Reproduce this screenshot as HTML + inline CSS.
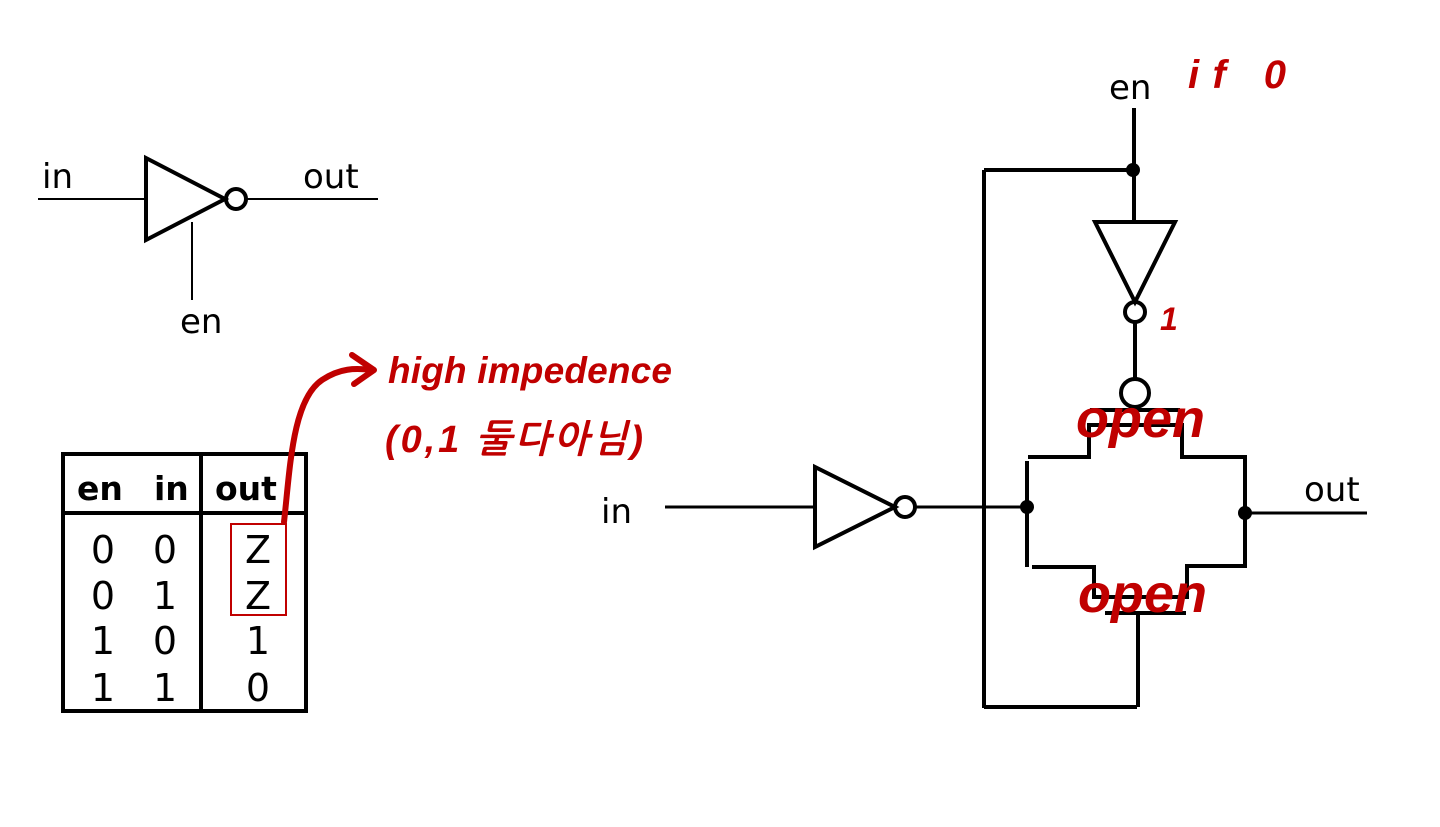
<!DOCTYPE html>
<html><head><meta charset="utf-8"><style>
html,body{margin:0;padding:0;background:#fff;}
svg{display:block;}
text{font-family:"DejaVu Sans","Noto Sans CJK KR",sans-serif;}
.r{fill:#c00000;font-family:"Liberation Sans","NanumGothic",sans-serif;font-style:italic;}
</style></head><body>
<svg width="1440" height="827" viewBox="0 0 1440 827" xmlns="http://www.w3.org/2000/svg">
<rect width="1440" height="827" fill="#fff"/>
<g stroke="#000" fill="none" stroke-width="3">
<line x1="38" y1="199" x2="146" y2="199" stroke-width="2"/>
<polygon points="146,158 146,240 225,199" stroke-width="4"/>
<circle cx="236" cy="199" r="10" stroke-width="4"/>
<line x1="246" y1="199" x2="378" y2="199" stroke-width="2"/>
<line x1="192" y1="222" x2="192" y2="300" stroke-width="2"/>
<rect x="63" y="454" width="243" height="257" stroke-width="4"/>
<line x1="201" y1="454" x2="201" y2="711" stroke-width="4"/>
<line x1="63" y1="513" x2="306" y2="513" stroke-width="4"/>
<rect x="231" y="524" width="55" height="91" stroke="#c00000" stroke-width="2"/>
<line x1="665" y1="507" x2="815" y2="507"/>
<polygon points="815,467 815,547 895,507" stroke-width="4"/>
<circle cx="905" cy="507" r="10" stroke-width="4"/>
<line x1="915" y1="507" x2="1027" y2="507"/>
<line x1="1134" y1="108" x2="1134" y2="222" stroke-width="4"/>
<line x1="984" y1="170" x2="1134" y2="170" stroke-width="4"/>
<line x1="984" y1="170" x2="984" y2="708" stroke-width="4"/>
<line x1="984" y1="707" x2="1137" y2="707" stroke-width="4"/>
<polygon points="1095,222 1175,222 1135,302" stroke-width="4"/>
<circle cx="1135" cy="312" r="10" stroke-width="4"/>
<line x1="1135" y1="322" x2="1135" y2="380" stroke-width="4"/>
<circle cx="1135" cy="393" r="14" stroke-width="4"/>
<line x1="1090" y1="410" x2="1180" y2="410" stroke-width="4"/>
<polyline points="1028,457 1089,457 1089,425 1182,425 1182,457 1245,457 1245,566 1187,566 1187,597 1094,597 1094,567 1032,567" stroke-width="4"/>
<line x1="1027" y1="461" x2="1027" y2="567" stroke-width="4"/>
<line x1="1105" y1="613" x2="1186" y2="613" stroke-width="4"/>
<line x1="1138" y1="613" x2="1138" y2="707" stroke-width="4"/>
<line x1="1245" y1="513" x2="1367" y2="513"/>
<path d="M284,522 C290,470 292,400 322,380 C340,368 355,368 372,370" stroke="#c00000" stroke-width="6" stroke-linecap="round"/>
<path d="M352,355 L374,370 L354,384" stroke="#c00000" stroke-width="6" stroke-linecap="round" stroke-linejoin="round"/>
</g>
<g fill="#000">
<circle cx="1133" cy="170" r="7"/>
<circle cx="1027" cy="507" r="7"/>
<circle cx="1245" cy="513" r="7"/>
</g>
<g font-size="34" fill="#000">
<text x="42" y="188">in</text>
<text x="303" y="188">out</text>
<text x="180" y="333">en</text>
<text x="601" y="523">in</text>
<text x="1304" y="501">out</text>
<text x="1109" y="99">en</text>
</g>
<g font-size="33" font-weight="bold" fill="#000">
<text x="77" y="500">en</text>
<text x="154" y="500">in</text>
<text x="215" y="500">out</text>
</g>
<g font-size="38" fill="#000" text-anchor="middle">
<text x="103" y="563">0</text><text x="165" y="563">0</text><text x="258" y="563">Z</text>
<text x="103" y="609">0</text><text x="165" y="609">1</text><text x="258" y="609">Z</text>
<text x="103" y="654">1</text><text x="165" y="654">0</text><text x="258" y="654">1</text>
<text x="103" y="701">1</text><text x="165" y="701">1</text><text x="258" y="701">0</text>
</g>
<text class="r" x="388" y="383" font-size="37" font-weight="bold" textLength="284">high impedence</text>
<text class="r" x="385" y="452" font-size="38" font-weight="bold" textLength="258">(0,1 둘다아님)</text>
<text class="r" x="1188" y="88" font-size="40" font-weight="bold" textLength="98">if 0</text>
<text class="r" x="1160" y="330" font-size="32" font-weight="bold">1</text>
<text class="r" x="1076" y="437" font-size="54" font-weight="bold">open</text>
<text class="r" x="1078" y="612" font-size="54" font-weight="bold">open</text>
</svg>
</body></html>
